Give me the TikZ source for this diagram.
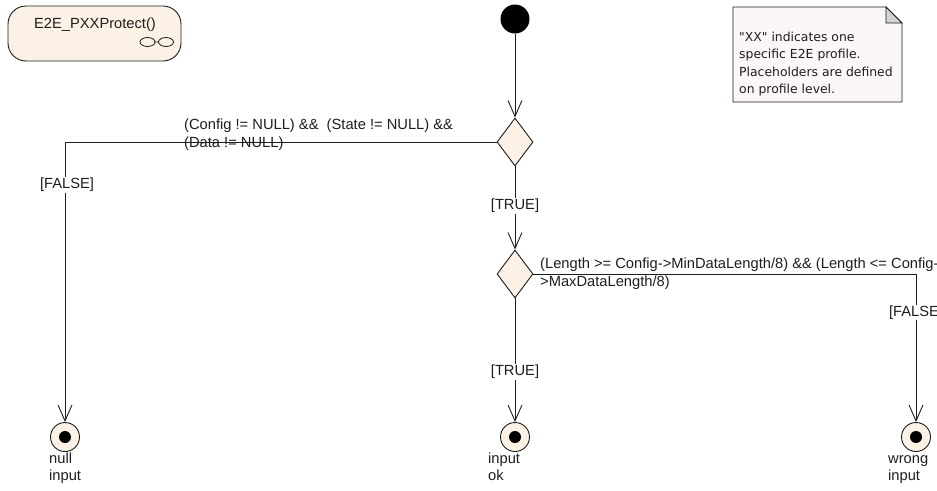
\documentclass[tikz,border=0pt]{standalone}
\usepackage{fontspec}
\setmainfont{Liberation Sans}
\newfontfamily\notefont{DejaVu Sans}
\usetikzlibrary{arrows.meta,shapes.geometric}
\definecolor{umlfill}{RGB}{251,241,228}
\definecolor{notefill}{RGB}{252,246,250}
\definecolor{foldgray}{RGB}{212,212,212}
\definecolor{ink}{RGB}{30,30,30}
\newcommand\myStrut{\rule{0pt}{11pt}}
\newcommand\noteStrut{\rule{0pt}{10pt}}
\begin{document}
\begin{tikzpicture}[x=1pt,y=-1pt,
  every node/.style={font=\fontsize{14.7}{18}\selectfont, text=ink},
  flow/.style={draw=ink, line width=0.9pt, -{Straight Barb[length=16pt,width=14pt,line width=0.9pt]}},
  decision/.style={draw=ink, line width=0.9pt, diamond, fill=umlfill, minimum width=36pt, minimum height=48pt, inner sep=0pt},
  final/.style={draw=ink, line width=0.9pt, circle, fill=umlfill, minimum size=29pt, inner sep=0pt,
     path picture={\fill[black] (path picture bounding box.center) circle (6pt);}},
  guard/.style={fill=white, inner sep=1pt},
  cond/.style={anchor=north west, align=left, inner sep=0pt},
  endlabel/.style={anchor=north west, align=left, inner sep=0pt, font=\fontsize{14.7}{17}\selectfont}]
\clip (0,0) rectangle (937,490);
\fill[white] (0,0) rectangle (937,490);

% activity frame
\node[draw=ink, line width=0.9pt, rounded corners=18pt, fill=umlfill, minimum width=173pt, minimum height=55pt, inner sep=0pt] (act) at (94.5,33.5) {};
\node (actname) at (95,25) {E2E\_PXXProtect()};
\draw[ink, line width=0.8pt] (147.5,42) ellipse (7.5 and 4.5) (166,42) ellipse (7.5 and 4.5) (155,42) -- (158.5,42);

% note
\draw[ink, line width=0.8pt, fill=notefill] (733,7) -- (886,7) -- (902,23) -- (902,102) -- (733,102) -- cycle;
\draw[ink, line width=0.8pt, fill=foldgray] (886,7) -- (886,23) -- (902,23) -- cycle;
\node[anchor=north west, align=left, inner sep=0pt, font=\notefont\fontsize{12.4}{17.5}\selectfont] (note) at (739,31)
  {\noteStrut"XX" indicates one\\specific E2E profile.\\Placeholders are defined\\on profile level.};

% nodes
\node[circle, fill=black, minimum size=29pt, inner sep=0pt] (start) at (515,19) {};
\node[decision] (d1) at (515,142) {};
\node[decision] (d2) at (515,274) {};
\node[final] (f1) at (65,437) {};
\node[final] (f2) at (515,437) {};
\node[final] (f3) at (916,437) {};

% connectors
\draw[flow] (start) -- (d1);
\draw[flow] (d1.west) -| node[guard, pos=0.577, xshift=2pt] {[FALSE]} (f1);
\draw[flow] (d1) -- node[guard, pos=0.476] {[TRUE]} (d2);
\draw[flow] (d2.east) -| node[guard, pos=0.63] {[FALSE]} (f3);
\draw[flow] (d2) -- node[guard, pos=0.594] {[TRUE]} (f2);

% conditions
\node[cond] (c1) at (184,118) {\myStrut(Config != NULL) \&\&\ \ (State != NULL) \&\&\\(Data != NULL)};
\node[cond] (c2) at (540,257) {\myStrut(Length >= Config->MinDataLength/8) \&\& (Length <= Config-\\>MaxDataLength/8)};

% final labels
\node[endlabel] (l1) at (49,452) {\myStrut null\\input};
\node[endlabel] (l2) at (488,452) {\myStrut input\\ok};
\node[endlabel] (l3) at (888,452) {\myStrut wrong\\input};
\end{tikzpicture}
\end{document}
